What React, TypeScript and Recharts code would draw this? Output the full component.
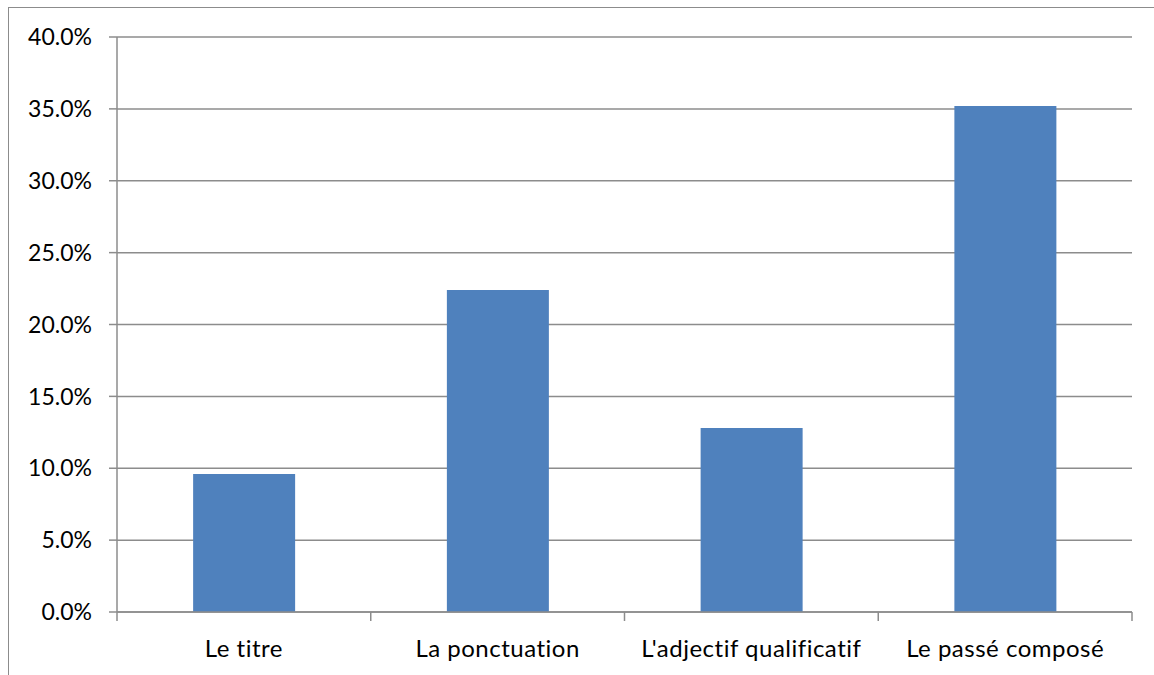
import React from "react";
import { BarChart, Bar, XAxis, YAxis, CartesianGrid } from "recharts";

const categories = ["Le titre", "La ponctuation", "L'adjectif qualificatif", "Le passé composé"];
const values = [9.6, 22.4, 12.8, 35.2];
const yTicks = [0, 5, 10, 15, 20, 25, 30, 35, 40];

const data = categories.map((c, i) => ({ name: c, value: values[i] }));

const W = 1154;
const H = 675;
const M = { top: 37, right: 22, left: 0, bottom: 0 };
const XH = 63;
const YW = 117;
const FONT = "Lato, 'Liberation Sans', sans-serif";
const FS = 23;
const GRID = "#8c8c8c";

const plotW = W - M.left - M.right - YW;
const band = plotW / categories.length;

const XTick = (props: any) => {
  const { x, y, payload, index } = props;
  const left = x - band / 2;
  const right = x + band / 2;
  return (
    <g>
      <line x1={left} y1={y - 8} x2={left} y2={y + 1} stroke={GRID} strokeWidth={1.5} />
      {index === categories.length - 1 && (
        <line x1={right} y1={y - 8} x2={right} y2={y + 1} stroke={GRID} strokeWidth={1.5} />
      )}
      <text
        x={x}
        y={y + 37}
        textAnchor="middle"
        fontFamily={FONT}
        fontSize={24}
        letterSpacing={0.5}
        fill="#000"
        style={{ fontVariantLigatures: "none" }}
      >
        {payload.value}
      </text>
    </g>
  );
};

export default function App() {
  return (
    <div style={{ position: "absolute", left: 0, top: 0, width: W, height: H, overflow: "hidden", background: "#fff" }}>
      <div
        style={{
          position: "absolute",
          left: 8,
          top: 7,
          width: W,
          height: H,
          borderLeft: "1.5px solid #8c8c8c",
          borderTop: "1.5px solid #8c8c8c",
        }}
      />
      <div style={{ position: "absolute", left: 0, top: 0 }}>
        <BarChart width={W} height={H} data={data} margin={M} barCategoryGap="30%">
          <CartesianGrid vertical={false} stroke={GRID} strokeWidth={1.5} strokeOpacity={1} />
          <XAxis
            dataKey="name"
            axisLine={{ stroke: GRID, strokeWidth: 1.5 }}
            tickLine={false}
            tick={<XTick />}
            interval={0}
            height={XH}
          />
          <YAxis
            width={YW}
            domain={[0, 40]}
            ticks={yTicks}
            interval={0}
            tickFormatter={(v: number) => v.toFixed(1) + "%"}
            axisLine={{ stroke: GRID, strokeWidth: 1.5 }}
            tickLine={{ stroke: GRID, strokeWidth: 1.5 }}
            tickSize={8}
            tickMargin={17}
            tick={{ fill: "#000", fontSize: FS, fontFamily: FONT }}
          />
          <Bar dataKey="value" fill="#4f81bd" isAnimationActive={false} />
        </BarChart>
      </div>
    </div>
  );
}
